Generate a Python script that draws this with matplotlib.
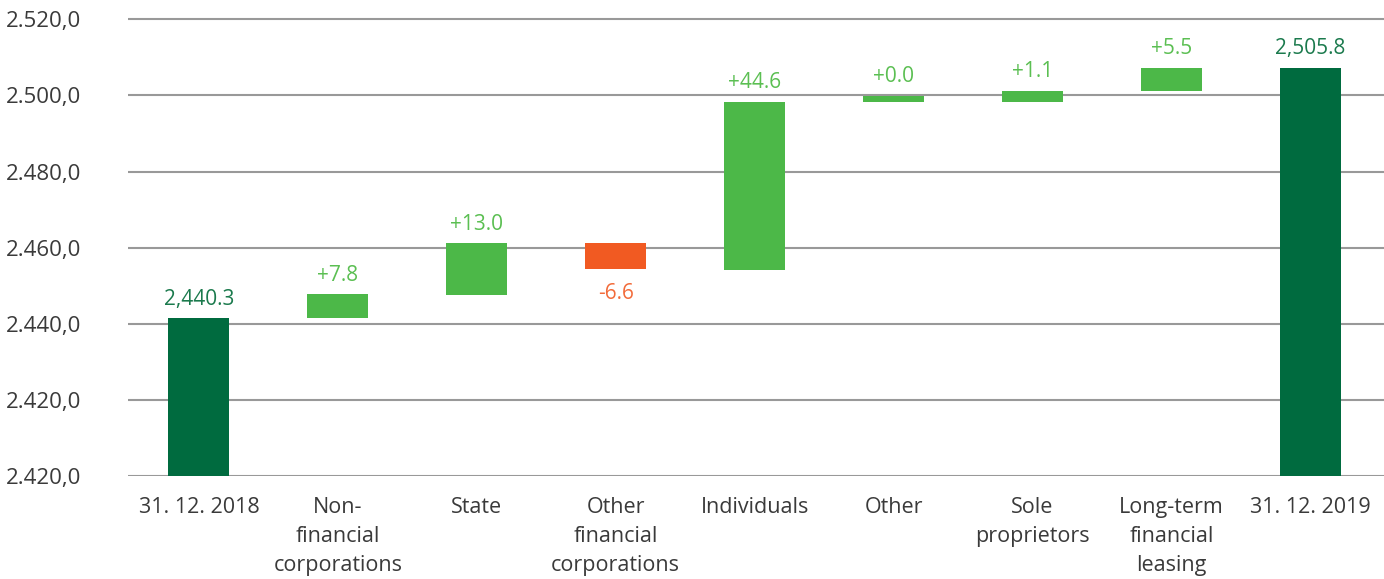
import matplotlib.pyplot as plt

# categories and bar extents (bottom / top)
categories = ["31. 12. 2018", "Non-\nfinancial\ncorporations", "State",
              "Other\nfinancial\ncorporations", "Individuals", "Other",
              "Sole\nproprietors", "Long-term\nfinancial\nleasing", "31. 12. 2019"]
bottoms = [2400.0, 2441.5, 2447.6, 2454.4, 2454.2, 2498.3, 2498.4, 2501.2, 2400.0]
tops = [2441.5, 2447.8, 2461.2, 2461.2, 2498.3, 2499.9, 2501.3, 2507.3, 2507.3]
kinds = ["total", "up", "up", "down", "up", "up", "up", "up", "total"]
value_labels = ["2,440.3", "+7.8", "+13.0", "-6.6", "+44.6", "+0.0", "+1.1", "+5.5", "2,505.8"]

y_ticks = [2400, 2420, 2440, 2460, 2480, 2500, 2520]
y_tick_labels = ["2.420,0", "2.420,0", "2.440,0", "2.460,0", "2.480,0", "2.500,0", "2.520,0"]

bar_colors = {"total": "#006B3F", "up": "#4CB848", "down": "#F15A22"}
text_colors = {"total": "#1B7A4D", "up": "#5BBF52", "down": "#F26B3A"}

plt.rcParams["font.family"] = ["Open Sans", "DejaVu Sans"]

fig = plt.figure(figsize=(13.84, 5.79), dpi=100)
ax = fig.add_axes([0.0925, 0.178, 0.9075, 0.822])

x = list(range(len(categories)))
heights = [t - b for b, t in zip(bottoms, tops)]
ax.bar(x, heights, bottom=bottoms, width=0.44,
       color=[bar_colors[k] for k in kinds], zorder=3)

for i, k in enumerate(kinds):
    if k == "down":
        ax.annotate(value_labels[i], (i, bottoms[i]), xytext=(0, -25),
                    textcoords="offset pixels", ha="center", va="center",
                    fontsize=15, color=text_colors[k])
    else:
        ax.annotate(value_labels[i], (i, tops[i]), xytext=(0, 19),
                    textcoords="offset pixels", ha="center", va="center",
                    fontsize=15, color=text_colors[k])

ax.set_ylim(2400, 2525.1)
ax.set_xlim(-0.51, 8.53)
ax.set_yticks(y_ticks)
ax.set_yticklabels(y_tick_labels)
ax.set_xticks(x)
ax.set_xticklabels(categories, linespacing=1.5)
ax.grid(axis="y", color="#999999", linewidth=1.5, zorder=0)
ax.tick_params(axis="y", length=0, pad=34, labelsize=16, labelcolor="#3a3a3a")
ax.tick_params(axis="x", length=0, pad=15, labelsize=15.5, labelcolor="#3a3a3a")
for s in ax.spines.values():
    s.set_visible(False)

plt.savefig("out.png", dpi=100)
